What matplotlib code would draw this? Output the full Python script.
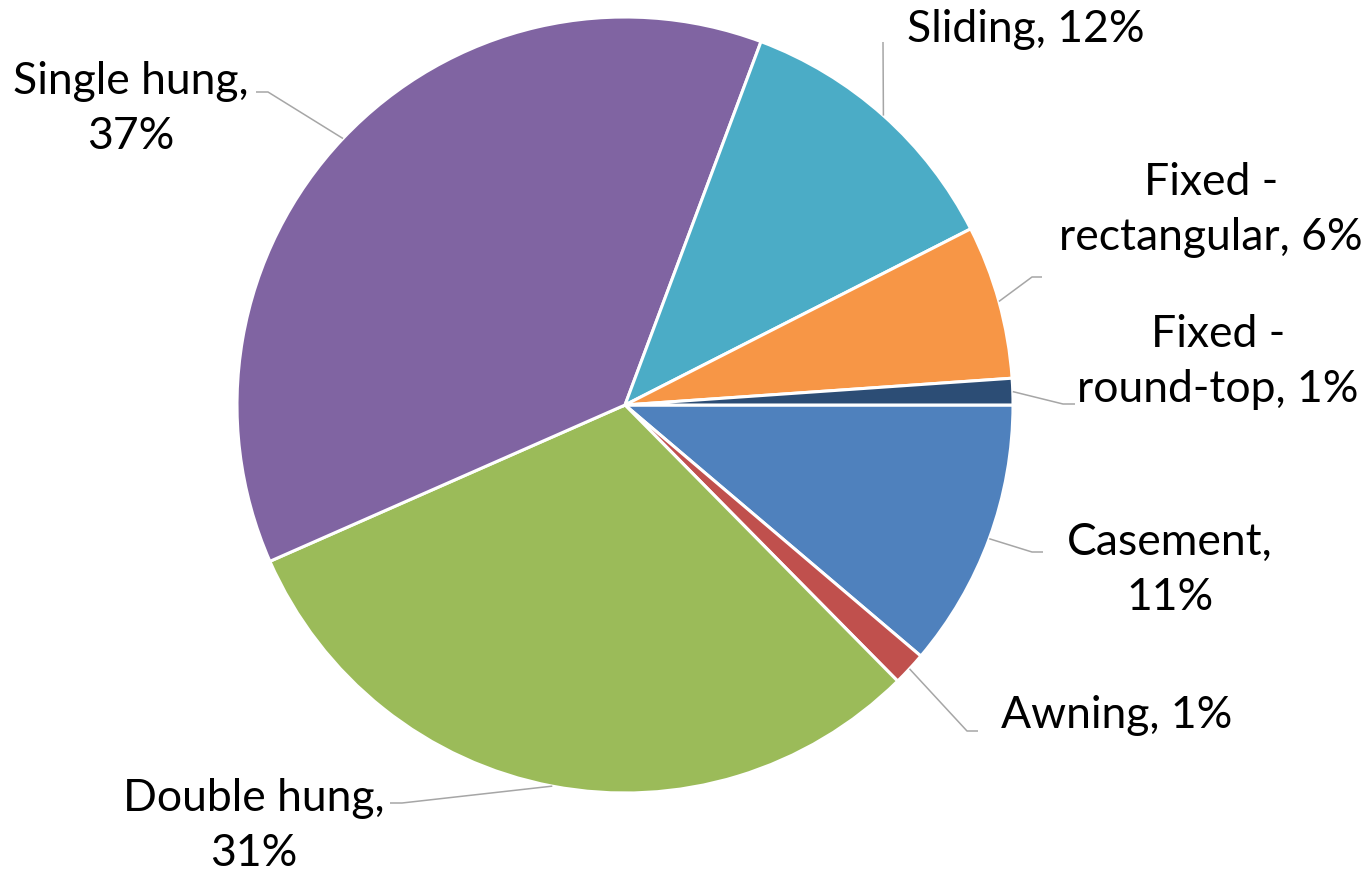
import numpy as np
import matplotlib
matplotlib.use("Agg")
import matplotlib.pyplot as plt

# ---- data ----
categories = ["Casement", "Awning", "Double hung", "Single hung", "Sliding",
              "Fixed - rectangular", "Fixed - round-top"]
shares = [11.2, 1.4, 30.8, 37.3, 11.8, 6.4, 1.1]
label_templates = ["Casement,\n{p}%", "Awning, {p}%", "Double hung,\n{p}%",
                   "Single hung,\n{p}%", "Sliding, {p}%",
                   "Fixed -\nrectangular, {p}%", "Fixed -\nround-top, {p}%"]
colors = ["#4F81BD", "#C0504D", "#9BBB59", "#8064A2", "#4BACC6",
          "#F79646", "#2C4D75"]

# ---- layout (pixel coordinates, y downward) ----
CX, CY, R = 625, 405, 388
# elbow point, line end, text centre for each label
elbows = [(1032, 552), (967, 731), (402, 803), (268, 92), (883, 42),
          (1032, 277), (1063, 404)]
ends = [(1043, 552), (978, 731), (390, 803), (256, 92), (883, 42),
        (1042, 277), (1075, 404)]
text_pos = [(1170, 570), (1117, 715), (254, 826), (131, 109), (1026, 30),
            (1211, 210), (1218, 362)]

fig = plt.figure(figsize=(13.7, 8.72), dpi=100)
ax = fig.add_axes([0, 0, 1, 1])

wedges, _ = ax.pie(shares, colors=colors, startangle=0, counterclock=True,
                   center=(CX, CY), radius=R,
                   wedgeprops=dict(edgecolor="white", linewidth=2.2,
                                   joinstyle="miter"))
ax.set_xlim(0, 1370)
ax.set_ylim(872, 0)
ax.set_aspect("equal")
ax.axis("off")

for w, tmpl, v, el, en, tp in zip(wedges, label_templates, shares,
                                  elbows, ends, text_pos):
    mid = np.deg2rad((w.theta1 + w.theta2) / 2)
    ax_x = CX + R * np.cos(mid)
    ax_y = CY + R * np.sin(mid)
    ax.plot([ax_x, el[0], en[0]], [ax_y, el[1], en[1]], color="#A6A6A6",
            lw=1.1, solid_capstyle="butt")
    ax.text(tp[0], tp[1], tmpl.format(p=int(round(v))), ha="center",
            va="center", multialignment="center", fontsize=32,
            family="Lato", color="black", linespacing=1.42)

fig.savefig("out.png", dpi=100)
